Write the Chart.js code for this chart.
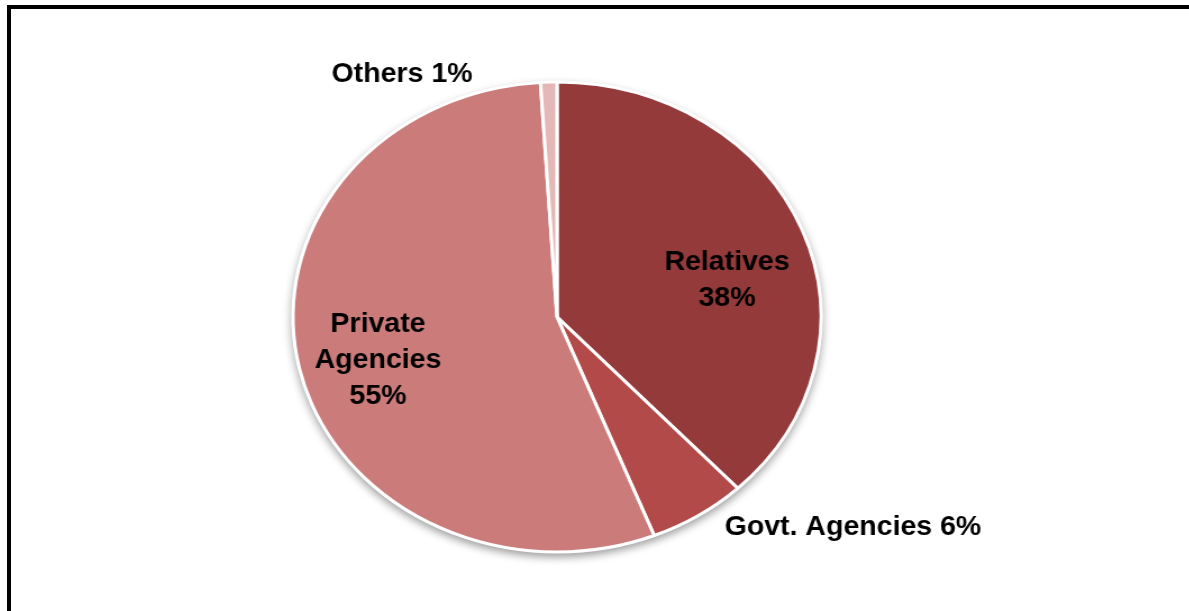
<!DOCTYPE html>
<html>
<head>
<meta charset="utf-8">
<script src="https://cdn.jsdelivr.net/npm/chart.js@4.4.1/dist/chart.umd.min.js"></script>
<style>
  html, body { margin: 0; padding: 0; background: #fff; overflow: hidden; }
  body { width: 1189px; height: 611px; position: relative; }
  #frame {
    position: absolute; left: 7px; top: 5px; width: 1200px; height: 620px;
    border-top: 4px solid #000; border-left: 4px solid #000;
  }
  /* the source pie is an ellipse, so the canvas gets stretched sideways */
  #wrap {
    position: absolute; left: 57px; top: 17px; width: 1000px; height: 600px;
    transform: scaleX(1.1234); transform-origin: 500px 300px;
  }
</style>
</head>
<body>
<div id="frame"></div>
<div id="wrap"><canvas id="chart"></canvas></div>
<script>
const categories = ["Relatives", "Govt. Agencies", "Private Agencies", "Others"];
const shares = [38, 6, 55, 1];
const sliceColors = ["#953a3a", "#b14a48", "#ca7b7a", "#e4b8b7"];

const STRETCH = 1.1234;

// label placement, in units of the pie radius from its centre
const labelLayout = [
  { wrap: true,  dx: 0.644,  dy: -0.157 },
  { wrap: false, dx: 1.121,  dy: 0.894 },
  { wrap: true,  dx: -0.678, dy: 0.183 },
  { wrap: false, dx: -0.587, dy: -1.034 }
];

const pieShadow = {
  id: "pieShadow",
  beforeDatasetsDraw(chart) {
    const arc = chart.getDatasetMeta(0).data[0];
    if (!arc) return;
    const ctx = chart.ctx;
    ctx.save();
    ctx.shadowColor = "rgba(0,0,0,0.4)";
    ctx.shadowBlur = 9;
    ctx.shadowOffsetY = 4;
    ctx.fillStyle = "#fff";
    ctx.beginPath();
    ctx.arc(arc.x, arc.y, arc.outerRadius + 1, 0, Math.PI * 2);
    ctx.fill();
    ctx.restore();
  }
};

const sliceLabels = {
  id: "sliceLabels",
  afterDatasetsDraw(chart) {
    const ctx = chart.ctx;
    const arcs = chart.getDatasetMeta(0).data;
    ctx.save();
    ctx.font = "bold 28.5px 'Liberation Sans', Arial, sans-serif";
    ctx.fillStyle = "#000";
    ctx.textAlign = "center";
    ctx.textBaseline = "middle";
    arcs.forEach((arc, i) => {
      const lay = labelLayout[i];
      const pct = shares[i] + "%";
      const lines = lay.wrap
        ? categories[i].split(" ").concat([pct])
        : [categories[i] + " " + pct];
      const r = arc.outerRadius;
      ctx.save();
      ctx.translate(arc.x + lay.dx * r, arc.y + lay.dy * r);
      ctx.scale(1 / STRETCH, 1);
      lines.forEach((t, k) => {
        ctx.fillText(t, 0, (k - (lines.length - 1) / 2) * 36);
      });
      ctx.restore();
    });
    ctx.restore();
  }
};

new Chart(document.getElementById("chart"), {
  type: "pie",
  data: {
    labels: categories,
    datasets: [{
      data: shares,
      backgroundColor: sliceColors,
      borderColor: "#fff",
      borderWidth: 3,
      hoverOffset: 0
    }]
  },
  options: {
    responsive: true,
    maintainAspectRatio: false,
    animation: false,
    radius: 235,
    events: [],
    plugins: {
      legend: { display: false },
      tooltip: { enabled: false }
    }
  },
  plugins: [pieShadow, sliceLabels]
});
</script>
</body>
</html>
